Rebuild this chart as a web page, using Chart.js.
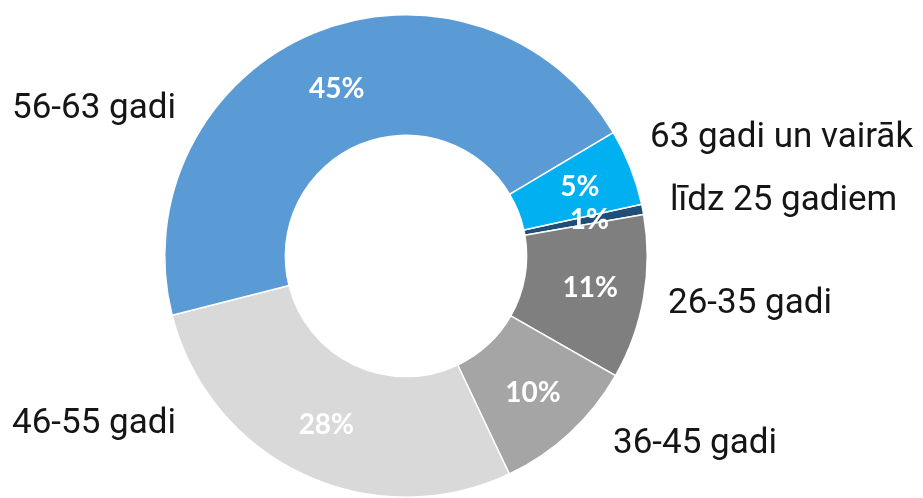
<!DOCTYPE html>
<html>
<head>
	<meta charset="utf-8">
	<title>Vecuma grupas</title>
	<script src="https://cdn.jsdelivr.net/npm/chart.js@4.4.0/dist/chart.umd.min.js"></script>
	<style>
		html, body { margin: 0; padding: 0; background: #fff; }
		#wrap { width: 923px; height: 498px; }
	</style>
</head>
<body>

	<div id="wrap"><canvas id="mychart" width="923" height="498"></canvas></div>

	<script type="text/javascript">

		// slices, clockwise starting from "līdz 25 gadiem"
		const labels = ['līdz 25 gadiem', '26-35 gadi', '36-45 gadi', '46-55 gadi', '56-63 gadi', '63 gadi un vairāk'];
		const shares = [0.7, 11.0, 9.7, 28.1, 45.4, 5.1];
		const colors = ['#1F4E79', '#7F7F7F', '#A5A5A5', '#D9D9D9', '#5B9BD5', '#00B0F0'];

		// where each category name sits, relative to the doughnut centre (left aligned, baseline)
		const namePlacement = [
			{ dx: 264, dy: -46 },
			{ dx: 262, dy: 57 },
			{ dx: 207, dy: 197 },
			{ dx: -394, dy: 177 },
			{ dx: -394, dy: -138 },
			{ dx: 244, dy: -109 }
		];

		const sliceLabels = {
			id: 'sliceLabels',
			afterDatasetsDraw(chart) {
				const ctx = chart.ctx;
				const meta = chart.getDatasetMeta(0);
				const total = shares.reduce((a, b) => a + b, 0);
				ctx.save();
				meta.data.forEach((arc, i) => {
					const p = arc.getProps(['x', 'y', 'startAngle', 'endAngle', 'innerRadius', 'outerRadius'], true);
					const mid = (p.startAngle + p.endAngle) / 2;
					const r = (p.innerRadius + p.outerRadius) / 2 + (i == 4 ? 0 : 6);
					ctx.fillStyle = '#ffffff';
					ctx.font = 'bold 28px Lato';
					ctx.textAlign = 'center';
					ctx.textBaseline = 'middle';
					ctx.fillText(Math.round(shares[i] / total * 100) + '%', p.x + Math.cos(mid) * r, p.y + Math.sin(mid) * r);

					const pos = namePlacement[i];
					ctx.fillStyle = '#151515';
					ctx.font = '35px Roboto';
					ctx.textAlign = 'left';
					ctx.textBaseline = 'alphabetic';
					ctx.fillText(labels[i], p.x + pos.dx, p.y + pos.dy);
				});
				ctx.restore();
			}
		};

		const ctx = document.getElementById('mychart').getContext('2d');

		const myChart = new Chart(ctx, {
			type: 'doughnut',
			data: {
				labels: labels,
				datasets: [{
					data: shares,
					backgroundColor: colors,
					borderColor: '#ffffff',
					borderWidth: 1.5
				}]
			},
			options: {
				responsive: false,
				animation: false,
				cutout: '50%',
				rotation: 77.6,
				layout: { padding: { left: 164, right: 275, top: 14, bottom: 0 } },
				plugins: {
					legend: { display: false },
					tooltip: { enabled: false }
				}
			},
			plugins: [sliceLabels]
		});

	</script>

</body>
</html>
